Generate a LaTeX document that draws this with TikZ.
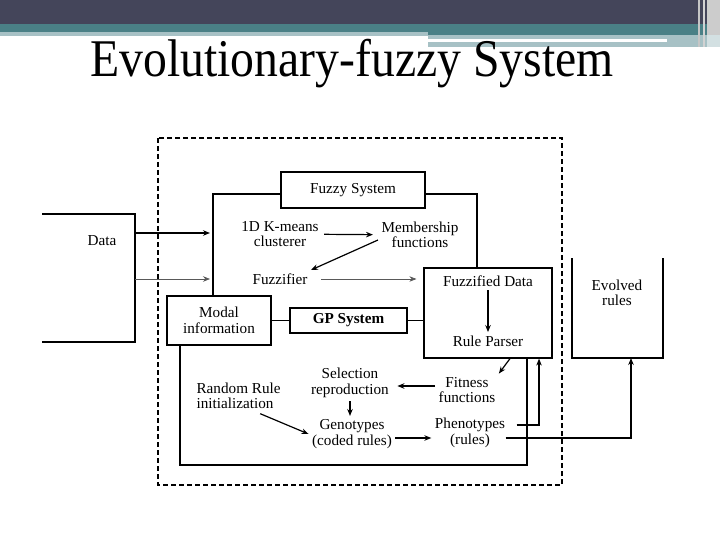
\documentclass[tikz,border=0pt]{standalone}
\usepackage{fontspec}
\setmainfont{Liberation Serif}
\usetikzlibrary{arrows.meta}
\definecolor{bardark}{HTML}{44455A}
\definecolor{barteal}{HTML}{4A8086}
\definecolor{barlight}{HTML}{A7C1C5}
\begin{document}
\begin{tikzpicture}[x=1pt,y=-1pt,>={Stealth[length=7pt,width=5.5pt]},line width=1.2pt,
		font=\fontsize{15.2}{15.5}\selectfont,
		box/.style={draw,rectangle,inner sep=0pt},
		txt/.style={align=center,inner sep=3pt},
		thinarr/.style={->,line width=0.7pt,draw=black!65}]
	\useasboundingbox (0,0) rectangle (720,540);
	\fill[white] (0,0) rectangle (720,540);
	% banner
	\fill[bardark] (0,0) rectangle (720,24);
	\fill[barteal] (0,24) rectangle (720,32);
	\fill[barlight] (0,32) rectangle (428,36);
	\fill[barteal] (428,24) rectangle (720,35);
	\fill[barlight] (428,35) rectangle (720,47);
	\fill[white] (428,39) rectangle (667,42);
	\fill[gray!45] (698,0) rectangle (700,47);
	\fill[gray!35] (703,0) rectangle (705,47);
	\fill[gray!40] (707,0) rectangle (720,35);
	\fill[barlight!50] (707,35) rectangle (720,47);
	\node (title) at (352,77) [anchor=base,font=\fontsize{53}{53}\selectfont] {\scalebox{0.9}[1]{Evolutionary-fuzzy System}};

	% dashed frame
	\draw[line width=1.3pt,dash pattern=on 5pt off 3pt] (158,138) rectangle (562,485);

	% boxes
	\node[box,minimum width=144,minimum height=36] (fzsys) at (353,190) {Fuzzy System};
	\node[box,minimum width=128,minimum height=90] (fdbox) at (488,313) {};
	\node[box,txt,minimum width=104,minimum height=49] (modal) at (219,320.5) {Modal\\information};
	\node[box,minimum width=117,minimum height=25,font=\fontsize{15.2}{15.5}\selectfont\bfseries] (gp) at (348.5,320.5) {GP System};

	% texts
	\node[txt] (data) at (102,241) {Data};
	\node[txt] (km) at (280,234) {1D K-means\\clusterer};
	\node[txt] (mem) at (420,235) {Membership\\functions};
	\node[txt] (fz) at (280,279) {Fuzzifier};
	\node[txt] (fzdata) at (488,281) {Fuzzified Data};
	\node[txt] (rparser) at (488,341) {Rule Parser};
	\node[txt] (sel) at (350,383) {Selection\\reproduction};
	\node[txt,align=left,anchor=west] (rr) at (193,396) {Random Rule\\initialization};
	\node[txt] (fit) at (467,390) {Fitness\\functions};
	\node[txt] (geno) at (352,434) {Genotypes\\(coded rules)};
	\node[txt] (pheno) at (470,433) {Phenotypes\\(rules)};
	\node[txt] (evolved) at (617,293) {Evolved\\rules};

	% open frames
	\draw (42,214) -- (135,214) -- (135,342) -- (42,342);
	\coordinate (fzl) at (213,194);
	\coordinate (fzr) at (477,194);
	\draw (fzl -| fzsys.west) -- (fzl) -- (fzl |- modal.north);
	\draw (fzr -| fzsys.east) -- (fzr) -- (fzr |- fdbox.north);
	\coordinate (gpl) at (180,465);
	\coordinate (gpr) at (527,465);
	\draw (gpl |- modal.south) -- (gpl) -- (gpr) -- (gpr |- fdbox.south);
	\coordinate (evl) at (572,258);
	\coordinate (evr) at (663,358);
	\draw (evl) -- (evl |- evr) -- (evr) -- (evr |- evl);
	\coordinate (evb) at (631,358);

	% connectors
	\coordinate (d1) at (135,233);
	\coordinate (d2) at (135,279);
	\draw[->,shorten >=3pt] (d1) -- (d1 -| fzl);
	\draw[thinarr,shorten >=3pt] (d2) -- (d2 -| fzl);
	\draw[->,shorten <=2pt,shorten >=5pt] (km) -- (mem);
	\draw[->] ([yshift=-5pt]mem.west) -- (fz.north east);
	\draw[thinarr,shorten <=10pt,shorten >=7pt] (fz) -- (fz -| fdbox.west);
	\draw (modal) -- (gp);
	\draw (gp) -- (gp -| fdbox.west);
	\draw[->] (fzdata) -- (rparser);
	\draw[->] ([xshift=22pt]fdbox.south) -- (fit.north east);
	\path ([yshift=4pt]fit.west) coordinate (fitw);
	\draw[->,shorten >=5pt] (fitw) -- (fitw -| sel.east);
	\draw[->] (sel.south) -- (sel.south |- geno.north);
	\draw[->] ([shift={(-24,1)}]rr.south east) -- (geno.west);
	\path ([yshift=-4pt]geno.east) coordinate (genoe);
	\draw[->] (genoe) -- (genoe -| pheno.west);
	\path ([shift={(8,-8)}]pheno.east) coordinate (phe1);
	\path ([shift={(-3,5)}]pheno.east) coordinate (phe2);
	\draw[->] (phe1) -| ([xshift=51pt]fdbox.south);
	\draw[->] (phe2) -| (evb);
\end{tikzpicture}
\end{document}
